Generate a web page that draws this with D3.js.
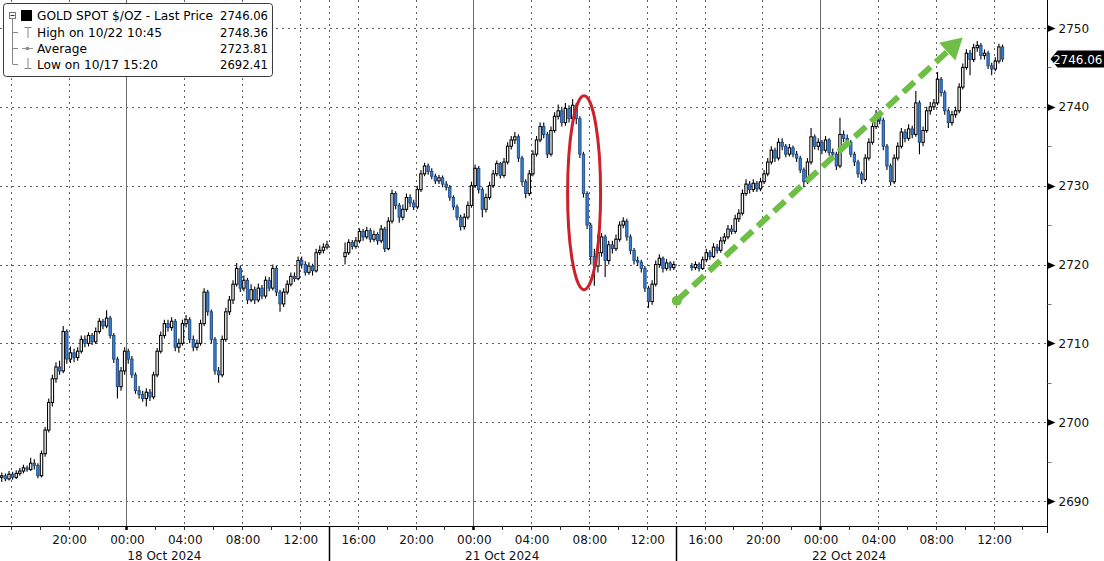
<!DOCTYPE html>
<html><head><meta charset="utf-8">
<script src="https://cdn.jsdelivr.net/npm/d3@7"></script>
<style>body{margin:0;background:#fff} svg{display:block;font-family:"DejaVu Sans",sans-serif}</style>
</head><body><svg id="c" width="1104" height="561"></svg>
<script>
// ---------- DATA (15-minute bars, GOLD SPOT $/OZ) ----------
const sessionLabels = ["18 Oct 2024", "21 Oct 2024", "22 Oct 2024"];
const sessionBounds = [[17,14],[18,14],[20,14],[21,14],[21,14],[22,14]]; // [day,hour] start/end pairs
const barStarts = [[17,15,15],[20,15,0],[21,15,0]];
const firstOpens = [2693.0, 2721.0, 2719.8];

const close0 = [2693.2,2692.8,2693.4,2693.0,2693.5,2693.8,2694.2,2694.0,2694.8,2694.5,
2693.2,2696.0,2699.0,2702.5,2705.5,2707.0,2706.5,2711.5,2708.0,2708.8,
2708.2,2709.0,2710.5,2710.0,2711.0,2710.2,2711.5,2712.8,2712.2,2713.2,
2711.0,2708.0,2704.5,2706.5,2709.0,2708.0,2706.0,2704.0,2703.5,2703.0,
2703.8,2703.2,2706.0,2709.0,2711.0,2712.5,2712.0,2712.8,2709.5,2710.0,
2712.5,2713.0,2710.5,2709.5,2710.0,2712.5,2716.5,2714.0,2710.5,2706.5,
2706.0,2710.5,2714.0,2715.5,2717.5,2719.5,2717.0,2718.0,2715.5,2716.8,
2715.5,2717.0,2716.0,2718.0,2717.0,2719.5,2716.5,2715.0,2716.5,2717.5,
2718.5,2718.2,2720.5,2720.0,2719.0,2719.8,2719.2,2721.5,2721.8,2722.2,
2722.5];
const high0 = [2693.6,2693.5,2693.8,2693.7,2693.9,2694.2,2694.6,2694.5,2695.5,2695.3,
2694.8,2696.4,2699.4,2703.0,2706.0,2707.6,2707.8,2712.2,2711.8,2709.6,
2709.3,2709.5,2711.0,2711.0,2711.4,2711.3,2712.0,2713.2,2713.1,2714.2,
2713.5,2711.3,2708.3,2707.0,2709.5,2709.3,2708.4,2706.3,2704.6,2704.0,
2704.3,2704.2,2706.4,2709.4,2711.5,2713.0,2713.0,2713.3,2713.1,2710.6,
2713.0,2713.6,2713.3,2711.0,2710.5,2713.0,2717.0,2716.8,2714.3,2710.8,
2707.0,2711.0,2714.5,2716.0,2718.0,2720.2,2719.8,2718.6,2718.3,2717.5,
2717.2,2717.6,2717.4,2718.5,2718.4,2720.0,2719.8,2716.8,2717.0,2718.0,
2719.0,2719.0,2721.0,2721.0,2720.4,2720.3,2720.1,2722.0,2722.4,2722.7,
2723.0];
const low0 = [2692.4,2692.5,2692.6,2692.7,2692.8,2693.2,2693.5,2693.7,2693.8,2694.0,
2692.9,2693.0,2695.6,2698.7,2702.0,2705.0,2706.0,2706.2,2707.4,2707.5,
2707.6,2707.8,2708.7,2709.5,2709.6,2709.8,2709.9,2711.2,2711.8,2711.9,
2710.6,2707.5,2703.0,2704.0,2706.0,2707.4,2705.6,2703.6,2703.0,2702.6,
2702.0,2702.7,2702.9,2705.7,2708.7,2710.6,2711.5,2711.6,2709.0,2708.8,
2709.7,2712.0,2710.0,2709.0,2709.1,2709.7,2712.2,2713.5,2710.0,2706.0,
2705.0,2705.7,2710.2,2713.6,2715.0,2717.2,2716.5,2716.6,2715.0,2715.2,
2715.0,2715.2,2715.6,2715.7,2716.6,2716.7,2716.0,2714.0,2714.6,2716.2,
2717.2,2717.8,2718.0,2719.5,2718.6,2718.7,2718.6,2719.0,2721.2,2721.4,
2721.9];

const close1 = [2721.5,2722.8,2722.3,2723.0,2724.2,2723.5,2724.3,2723.2,2723.8,2723.0,
2724.5,2722.0,2725.5,2729.0,2727.5,2726.0,2727.0,2728.5,2727.8,2727.3,
2729.5,2731.5,2732.5,2731.8,2731.2,2730.6,2731.0,2730.2,2729.8,2728.5,
2727.3,2726.0,2724.8,2726.0,2727.5,2730.0,2732.2,2729.5,2727.0,2728.5,
2730.0,2731.5,2732.8,2731.3,2733.0,2735.0,2735.8,2736.2,2733.5,2730.5,
2729.0,2731.5,2734.0,2735.8,2737.5,2736.5,2734.0,2737.0,2738.8,2739.5,
2738.0,2739.8,2738.5,2740.2,2738.5,2734.0,2729.0,2725.0,2721.0,2719.8,
2721.5,2723.5,2720.5,2722.5,2722.0,2723.2,2725.0,2725.5,2723.5,2721.8,
2720.5,2720.3,2719.5,2717.0,2715.3,2717.5,2720.0,2720.8,2719.5,2720.2,
2719.6,2720.0];
const high1 = [2722.8,2723.2,2723.1,2723.5,2724.6,2724.5,2724.8,2724.6,2724.3,2724.1,
2725.0,2724.8,2726.0,2729.5,2729.3,2727.8,2727.6,2729.0,2728.9,2728.2,
2730.0,2732.0,2732.9,2732.8,2732.2,2731.5,2731.4,2731.3,2730.6,2730.1,
2728.8,2727.6,2726.3,2726.5,2728.0,2730.5,2732.7,2732.5,2729.8,2729.0,
2730.5,2732.0,2733.2,2733.0,2733.5,2735.5,2736.3,2736.8,2736.5,2733.8,
2730.8,2732.0,2734.5,2736.3,2738.0,2738.0,2736.8,2737.5,2739.3,2740.3,
2740.0,2740.5,2740.2,2741.0,2740.5,2738.8,2734.3,2729.3,2725.3,2722.0,
2723.8,2724.0,2723.8,2723.0,2723.0,2723.8,2725.5,2726.0,2725.8,2723.8,
2722.1,2721.0,2720.6,2719.8,2717.3,2718.0,2720.5,2721.3,2721.0,2720.7,
2720.4,2720.4];
const low1 = [2720.0,2721.2,2721.9,2722.0,2722.7,2723.0,2723.2,2722.8,2722.9,2722.5,
2722.7,2721.6,2721.8,2725.2,2727.0,2725.3,2725.6,2726.7,2727.3,2726.9,
2727.0,2729.2,2731.2,2731.4,2730.8,2730.2,2730.2,2729.8,2729.4,2728.1,
2726.9,2725.6,2724.3,2724.4,2725.7,2727.2,2729.7,2729.0,2726.0,2726.6,
2728.2,2729.7,2731.2,2730.9,2731.0,2732.7,2734.6,2735.3,2733.0,2730.0,
2728.4,2728.7,2731.2,2733.7,2735.5,2736.0,2733.5,2733.7,2736.7,2738.4,
2737.5,2737.6,2738.0,2738.2,2737.8,2733.5,2728.5,2724.5,2720.0,2717.3,
2719.0,2721.0,2718.4,2720.0,2721.4,2721.7,2722.9,2724.6,2723.0,2721.3,
2720.0,2719.8,2719.0,2716.5,2714.5,2714.9,2717.2,2719.6,2719.0,2719.2,
2719.2,2719.3];

const close2 = [2719.6,2720.0,2719.5,2720.6,2721.5,2721.0,2722.2,2721.8,2723.0,2723.5,
2724.5,2724.2,2725.8,2726.5,2729.0,2730.2,2729.5,2730.3,2729.6,2730.5,
2731.5,2733.0,2734.5,2733.5,2735.5,2735.0,2734.0,2734.8,2734.0,2733.5,
2732.0,2730.5,2733.0,2736.2,2735.0,2735.5,2734.5,2735.8,2734.2,2734.0,
2732.5,2736.5,2736.0,2735.5,2734.0,2733.0,2731.5,2730.8,2733.5,2735.5,
2737.5,2739.0,2738.3,2735.0,2732.5,2730.5,2733.5,2735.0,2736.8,2736.0,
2737.2,2736.5,2740.5,2735.5,2737.0,2739.5,2740.0,2740.5,2743.5,2741.8,
2739.5,2738.0,2739.0,2739.5,2742.5,2745.0,2746.8,2746.0,2747.5,2747.8,
2746.5,2746.8,2745.2,2744.8,2745.8,2747.6,2746.06];
const high2 = [2720.2,2720.4,2720.3,2721.0,2722.0,2721.8,2722.7,2722.6,2723.5,2724.0,
2725.0,2725.0,2726.3,2727.0,2729.5,2730.8,2730.6,2730.8,2730.6,2731.0,
2732.0,2733.5,2735.0,2734.8,2736.0,2736.0,2735.3,2735.3,2735.1,2734.4,
2733.8,2732.3,2733.5,2737.3,2736.5,2736.0,2735.8,2736.3,2736.0,2734.7,
2734.3,2738.6,2737.0,2736.5,2735.8,2734.3,2733.3,2731.8,2734.0,2736.0,
2738.0,2739.6,2739.4,2738.6,2735.3,2732.8,2734.0,2735.5,2737.3,2737.2,
2737.8,2737.6,2742.0,2740.8,2737.5,2740.0,2740.6,2741.0,2744.4,2743.8,
2742.1,2739.8,2739.5,2740.0,2743.0,2745.5,2747.3,2747.2,2748.0,2748.36,
2748.1,2747.3,2747.1,2745.6,2746.3,2748.0,2747.9];
const low2 = [2719.2,2719.3,2719.1,2719.3,2720.3,2720.6,2720.8,2721.4,2721.5,2722.6,
2723.2,2723.8,2723.9,2725.4,2726.2,2728.7,2729.0,2729.2,2729.2,2729.3,
2730.2,2731.2,2732.7,2733.0,2733.2,2734.5,2733.6,2733.7,2733.6,2733.0,
2731.6,2729.8,2730.2,2732.7,2734.6,2734.5,2734.0,2734.2,2733.8,2733.5,
2732.0,2732.2,2735.5,2735.0,2733.6,2732.5,2731.0,2730.2,2730.5,2733.2,
2735.2,2737.2,2737.8,2734.5,2732.0,2730.0,2730.2,2733.2,2734.7,2735.5,
2735.7,2736.0,2736.2,2734.0,2735.0,2736.7,2739.0,2739.6,2740.2,2741.3,
2739.0,2737.3,2737.6,2738.6,2739.2,2742.2,2744.7,2744.0,2745.7,2747.0,
2746.0,2746.0,2744.8,2744.0,2744.5,2745.5,2745.7];

const yTicks = [2690, 2700, 2710, 2720, 2730, 2740, 2750];
const yMinorTicks = [2695, 2705, 2715, 2725, 2735, 2745];
// labelled 4-hour ticks: [day, hour]
const xLabelTicks = [[17,20],[18,0],[18,4],[18,8],[18,12],
  [20,16],[20,20],[21,0],[21,4],[21,8],[21,12],
  [21,16],[21,20],[22,0],[22,4],[22,8],[22,12]];
const xGridTicks = [[17,16]].concat(xLabelTicks);
const xMinorTicks = [[17,16],[17,18],[17,20],[17,22],[18,0],[18,2],[18,4],[18,6],[18,8],[18,10],[18,12],
  [20,16],[20,18],[20,20],[20,22],[21,0],[21,2],[21,4],[21,6],[21,8],[21,10],[21,12],
  [21,16],[21,18],[21,20],[21,22],[22,0],[22,2],[22,4],[22,6],[22,8],[22,10],[22,12],[22,14]];
const midnights = [[18,0],[21,0],[22,0]];

const legendRows = [
  {label: "GOLD SPOT $/OZ - Last Price", value: "2746.06"},
  {label: "High on 10/22 10:45", value: "2748.36"},
  {label: "Average", value: "2723.81"},
  {label: "Low on 10/17 15:20", value: "2692.41"}
];
const lastPrice = 2746.06;
// annotations (time / price anchored)
const ellipseAnchor = {day:21, hour:7, min:40, price:2729.1};
const arrowFrom = {day:21, hour:14, min:5, price:2715.4};
const arrowTo = {day:22, hour:9, min:52, price:2748.8};

// ---------- CHART ----------
const U = (d, h, m) => new Date(Date.UTC(2024, 9, d, h, m || 0));
const W = 1104, H = 561, plotRight = 1047.5, plotBottom = 526;
const svg = d3.select("#c");

const x = d3.scaleUtc()
  .domain([U(17,14), U(18,14), U(20,14), U(22,14)])
  .range([-18.1, 328.8, 328.8, 1022.4]);
const y = d3.scaleLinear().domain([2690, 2750]).range([501, 28]);

const closes = [close0, close1, close2], highs = [high0, high1, high2], lows = [low0, low1, low2];
const bars = [];
closes.forEach((cs, s) => {
  const st = U(...barStarts[s]);
  cs.forEach((c, i) => {
    const t = new Date(st.getTime() + (i * 15 + 7.5) * 60000);
    const o = i === 0 ? firstOpens[s] : cs[i - 1];
    bars.push({t, o, c, h: highs[s][i], l: lows[s][i]});
  });
});

svg.append("defs").append("clipPath").attr("id", "pc")
  .append("rect").attr("x", 0).attr("y", 0).attr("width", plotRight).attr("height", plotBottom);

// horizontal dotted grid
const g = svg.append("g");
g.selectAll(".hg").data(yTicks).join("line")
  .attr("x1", 0).attr("x2", plotRight)
  .attr("y1", d => Math.round(y(d)) + 0.5).attr("y2", d => Math.round(y(d)) + 0.5)
  .attr("stroke", "#5e5e5e").attr("stroke-dasharray", "2,4");

// vertical dotted grid
g.selectAll(".vg").data(xGridTicks.filter(d => d[1] !== 0)).join("line")
  .attr("x1", d => Math.round(x(U(d[0], d[1]))) + 0.5).attr("x2", d => Math.round(x(U(d[0], d[1]))) + 0.5)
  .attr("y1", 0).attr("y2", plotBottom)
  .attr("stroke", "#5e5e5e").attr("stroke-dasharray", "2,4");

// session separators (dotted in plot)
const seps = [U(18,14), U(21,14)];
g.selectAll(".sp").data(seps).join("line")
  .attr("x1", d => Math.round(x(d)) + 0.5).attr("x2", d => Math.round(x(d)) + 0.5)
  .attr("y1", 0).attr("y2", plotBottom)
  .attr("stroke", "#5e5e5e").attr("stroke-dasharray", "2,4");

// midnight solid lines
g.selectAll(".md").data(midnights).join("line")
  .attr("x1", d => Math.round(x(U(d[0], d[1]))) + 0.5).attr("x2", d => Math.round(x(U(d[0], d[1]))) + 0.5)
  .attr("y1", 0).attr("y2", plotBottom)
  .attr("stroke", "#6a6a6a").attr("stroke-width", 1);

// candles
const cg = svg.append("g").attr("clip-path", "url(#pc)");
const bw = 2.4;
cg.selectAll(".wk").data(bars).join("line")
  .attr("x1", d => x(d.t)).attr("x2", d => x(d.t))
  .attr("y1", d => y(d.h)).attr("y2", d => y(d.l))
  .attr("stroke", "#000").attr("stroke-width", 1.1);
cg.selectAll(".bd").data(bars).join("rect")
  .attr("x", d => x(d.t) - bw / 2).attr("width", bw)
  .attr("y", d => y(Math.max(d.o, d.c)))
  .attr("height", d => Math.max(0.8, Math.abs(y(d.o) - y(d.c))))
  .attr("fill", d => d.c >= d.o ? "#ffffff" : "#3781d4")
  .attr("stroke", d => d.c >= d.o ? "#000" : "#173f77")
  .attr("stroke-width", d => d.c >= d.o ? 1.05 : 0.8);

// axes lines
svg.append("line").attr("x1", 0).attr("x2", plotRight).attr("y1", plotBottom + 0.5).attr("y2", plotBottom + 0.5)
  .attr("stroke", "#000");
svg.append("line").attr("x1", plotRight).attr("x2", plotRight).attr("y1", 0).attr("y2", 533)
  .attr("stroke", "#000");

// bottom minor ticks
svg.selectAll(".mt").data(xMinorTicks).join("line")
  .attr("x1", d => Math.round(x(U(d[0], d[1]))) + 0.5).attr("x2", d => Math.round(x(U(d[0], d[1]))) + 0.5)
  .attr("y1", plotBottom).attr("y2", plotBottom + 4)
  .attr("stroke", "#333");
svg.selectAll(".mdt").data(midnights).join("line")
  .attr("x1", d => Math.round(x(U(d[0], d[1]))) + 0.5).attr("x2", d => Math.round(x(U(d[0], d[1]))) + 0.5)
  .attr("y1", plotBottom).attr("y2", plotBottom + 4)
  .attr("stroke", "#000").attr("stroke-width", 2.5);
svg.selectAll(".spt").data(seps).join("line")
  .attr("x1", d => Math.round(x(d)) + 0.5).attr("x2", d => Math.round(x(d)) + 0.5)
  .attr("y1", plotBottom).attr("y2", H)
  .attr("stroke", "#000").attr("stroke-width", 1.5);

// bottom labels
const fmt = d3.utcFormat("%H:%M");
svg.selectAll(".xl").data(xLabelTicks).join("text")
  .attr("x", d => x(U(d[0], d[1])) + 1).attr("y", 544)
  .attr("text-anchor", "middle").attr("font-size", 12).attr("fill", "#111")
  .text(d => fmt(U(d[0], d[1])));
const sessSpans = [0, 1, 2].map(s => {
  const a = Math.max(0, x(U(...sessionBounds[s * 2])));
  const b = Math.min(plotRight, x(U(...sessionBounds[s * 2 + 1])));
  return (a + b) / 2;
});
svg.selectAll(".dl").data(sessionLabels).join("text")
  .attr("x", (d, i) => sessSpans[i]).attr("y", 559.5)
  .attr("text-anchor", "middle").attr("font-size", 12).attr("fill", "#111")
  .text(d => d);

// right axis
svg.selectAll(".tri").data(yTicks).join("path")
  .attr("d", d => { const yy = Math.round(y(d)) + 0.5; return `M${plotRight},${yy - 3.5}L${plotRight + 8},${yy}L${plotRight},${yy + 3.5}Z`; })
  .attr("fill", "#000");
svg.selectAll(".ymt").data(yMinorTicks).join("line")
  .attr("x1", plotRight).attr("x2", plotRight + 4)
  .attr("y1", d => Math.round(y(d)) + 0.5).attr("y2", d => Math.round(y(d)) + 0.5)
  .attr("stroke", "#777");
svg.selectAll(".yl").data(yTicks).join("text")
  .attr("x", plotRight + 11).attr("y", d => y(d) + 4.5)
  .attr("font-size", 12).attr("fill", "#111")
  .text(d => d);

// last price tag
const ly = y(lastPrice);
svg.append("path")
  .attr("d", `M${plotRight + 3},${ly}L${plotRight + 10},${ly - 8.5}L${W},${ly - 8.5}L${W},${ly + 8.5}L${plotRight + 10},${ly + 8.5}Z`)
  .attr("fill", "#000");
svg.append("text").attr("x", W - 1.5).attr("y", ly + 4.5).attr("text-anchor", "end")
  .attr("font-size", 12).attr("fill", "#fff").text(lastPrice.toFixed(2));

// annotations
const ex = x(U(ellipseAnchor.day, ellipseAnchor.hour, ellipseAnchor.min)), ey = y(ellipseAnchor.price);
svg.append("ellipse").attr("cx", ex).attr("cy", ey).attr("rx", 16.5).attr("ry", 97)
  .attr("fill", "none").attr("stroke", "#cc2129").attr("stroke-width", 3);

const ax0 = x(U(arrowFrom.day, arrowFrom.hour, arrowFrom.min)), ay0 = y(arrowFrom.price);
const ax1 = x(U(arrowTo.day, arrowTo.hour, arrowTo.min)), ay1 = y(arrowTo.price);
const dx = ax1 - ax0, dy = ay1 - ay0, len = Math.hypot(dx, dy), ux = dx / len, uy = dy / len;
const headL = 21, headW = 12;
const bx = ax1 - ux * headL, by = ay1 - uy * headL;
const green = "#6fbe46";
svg.append("line").attr("x1", ax0).attr("y1", ay0).attr("x2", bx + ux * 2).attr("y2", by + uy * 2)
  .attr("stroke", green).attr("stroke-width", 6).attr("stroke-dasharray", "15,7");
svg.append("circle").attr("cx", ax0).attr("cy", ay0).attr("r", 5).attr("fill", green);
svg.append("path")
  .attr("d", `M${ax1},${ay1}L${bx - uy * headW},${by + ux * headW}L${bx + uy * headW},${by - ux * headW}Z`)
  .attr("fill", green);

// legend
const lg = svg.append("g");
lg.append("rect").attr("x", 3.5).attr("y", 3.5).attr("width", 269).attr("height", 73).attr("rx", 3)
  .attr("fill", "#fff").attr("stroke", "#3a3a3a");
const rowY = [15.5, 32, 48, 64];
// tree
lg.append("line").attr("x1", 12.5).attr("x2", 12.5).attr("y1", 19).attr("y2", rowY[3]).attr("stroke", "#888");
[1, 2, 3].forEach(i => lg.append("line").attr("x1", 12.5).attr("x2", 18).attr("y1", rowY[i] + 0.5).attr("y2", rowY[i] + 0.5).attr("stroke", "#888"));
lg.append("rect").attr("x", 9.5).attr("y", 12.5).attr("width", 6).attr("height", 6).attr("fill", "#fff").attr("stroke", "#777");
lg.append("line").attr("x1", 10.5).attr("x2", 14.5).attr("y1", 15.5).attr("y2", 15.5).attr("stroke", "#333");
lg.append("rect").attr("x", 21).attr("y", 10).attr("width", 11).attr("height", 11).attr("fill", "#000");
// high icon
lg.append("path").attr("d", "M24.5,27.5H31.5M28,27.5V38").attr("stroke", "#888").attr("fill", "none");
// average icon
lg.append("path").attr("d", "M22,48.5H33").attr("stroke", "#999").attr("fill", "none");
lg.append("circle").attr("cx", 27.5).attr("cy", 48.5).attr("r", 1.8).attr("fill", "#888");
// low icon
lg.append("path").attr("d", "M28,58V68.5M24.5,68.5H31.5").attr("stroke", "#888").attr("fill", "none");
lg.selectAll(".lt").data(legendRows).join("text")
  .attr("x", 37).attr("y", (d, i) => rowY[i] + 4.5).attr("font-size", 12.2).attr("fill", "#000")
  .text(d => d.label);
lg.selectAll(".lv").data(legendRows).join("text")
  .attr("x", 268).attr("y", (d, i) => rowY[i] + 4.5).attr("font-size", 11.6).attr("fill", "#000")
  .attr("text-anchor", "end").text(d => d.value);
</script></body></html>
